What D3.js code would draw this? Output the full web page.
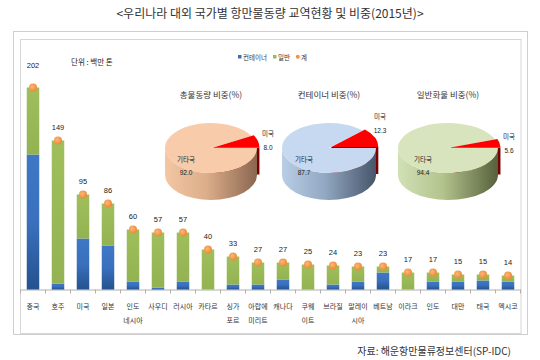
<!DOCTYPE html>
<html><head><meta charset="utf-8">
<script src="https://cdn.jsdelivr.net/npm/d3@7"></script>
<style>
html,body{margin:0;padding:0;background:#fff;}
svg{display:block;font-family:"Noto Sans CJK KR","Noto Sans",sans-serif;}
</style></head>
<body>
<svg id="c" width="540" height="360"></svg>
<script>
// ---- data ----
const categories = ["중국","호주","미국","일본","인도\n네시아","사우디","러시아","카타르","싱가\n포르","아랍에\n미리트","캐나다","쿠웨\n이트","브라질","말레이\n시아","베트남","이라크","인도","대만","태국","멕시코"];
const totals    = [202,149,95,86,60,57,57,40,33,27,27,25,24,23,23,17,17,15,15,14];
const container = [135,6,51,44,8,2,8,0,5,5,10,0,5,8,17,0,8,8,9,8];
const general   = [67,143,44,42,52,55,49,40,28,22,17,25,19,15,6,17,9,7,6,6];
const seriesNames = ["컨테이너","일반","계"];
const pieTitles = ["총물동량 비중(%)","컨테이너 비중(%)","일반화물 비중(%)"];
const pieUS     = [8.0,12.3,5.6];
const pieOther  = [92.0,87.7,94.4];
const pieLabels = ["미국","기타국"];
const title = "<우리나라 대외 국가별 항만물동량 교역현황 및 비중(2015년)>";
const unitLabel = "단위 : 백만 톤";
const source = "자료: 해운항만물류정보센터(SP-IDC)";

const svg = d3.select("#c");
const defs = svg.append("defs");

// gradients
function lg(id, stops, x2, y2){
  const g = defs.append("linearGradient").attr("id", id)
    .attr("x1",0).attr("y1",0).attr("x2",x2).attr("y2",y2);
  stops.forEach(s=>g.append("stop").attr("offset",s[0]).attr("stop-color",s[1]));
}
lg("gBlue", [[0,"#3f78c6"],[0.5,"#3a70bd"],[1,"#24528f"]], 0, 1);
lg("gGreen", [[0,"#9fbe5c"],[1,"#93b352"]], 0, 1);
lg("side0", [[0,"#f3c7a4"],[0.45,"#dcae8a"],[1,"#8a6650"]], 1, 0);
lg("side1", [[0,"#b9cde6"],[0.45,"#93a8c2"],[1,"#46556a"]], 1, 0);
lg("side2", [[0,"#d2e0b6"],[0.45,"#b3c38c"],[1,"#56603c"]], 1, 0);
const dotG = defs.append("radialGradient").attr("id","gDot").attr("cx","40%").attr("cy","40%").attr("r","60%");
dotG.append("stop").attr("offset",0).attr("stop-color","#fbb77a");
dotG.append("stop").attr("offset",1).attr("stop-color","#ee8a35");

// title
svg.append("text").attr("x",270).attr("y",18).attr("text-anchor","middle")
  .attr("font-size",12).attr("fill","#333").text(title);

// frames
svg.append("rect").attr("x",13.5).attr("y",31.5).attr("width",514).attr("height",303)
  .attr("fill","none").attr("stroke","#cfcfcf");
svg.append("rect").attr("x",20.5).attr("y",39.5).attr("width",500.5).attr("height",294)
  .attr("fill","#fff").attr("stroke","#d6d6d6");

// scales
const x = d3.scaleBand().domain(categories).range([20.5,520.5]).paddingInner(0.5).paddingOuter(0.25);
const y = d3.scaleLinear().domain([0,250]).range([289.5,39.5]);

// axis
const axG = svg.append("g").attr("transform","translate(0,289.5)");
axG.call(d3.axisBottom(x).tickSize(0).tickFormat(""));
axG.select(".domain").attr("stroke","#b0b0b0");
const step = x.step();
const bounds = categories.map(c=>x(c)+x.bandwidth()/2-step/2).concat([x(categories[categories.length-1])+x.bandwidth()/2+step/2]);
axG.selectAll("line.tk").data(bounds).join("line").attr("class","tk")
  .attr("x1",d=>d).attr("x2",d=>d).attr("y1",0).attr("y2",4).attr("stroke","#b0b0b0");

// bars
const bw = x.bandwidth();
const bars = svg.append("g");
categories.forEach((c,i)=>{
  const cx0 = x(c);
  bars.append("rect").attr("x",cx0).attr("width",bw)
    .attr("y",y(container[i])).attr("height",y(0)-y(container[i]))
    .attr("fill","url(#gBlue)");
  bars.append("rect").attr("x",cx0).attr("width",bw)
    .attr("y",y(container[i]+general[i])).attr("height",y(container[i])-y(container[i]+general[i]))
    .attr("fill","url(#gGreen)");
});
// total dots + labels
svg.append("g").selectAll("circle").data(totals).join("circle")
  .attr("cx",(d,i)=>x(categories[i])+bw/2).attr("cy",d=>y(d)).attr("r",4)
  .attr("fill","url(#gDot)");
svg.append("g").selectAll("text").data(totals).join("text")
  .attr("x",(d,i)=>x(categories[i])+bw/2).attr("y",(d,i)=>y(d)-(i===0?20:11))
  .attr("text-anchor","middle").attr("font-size",7.5)
  .attr("font-family","'Liberation Sans Narrow','Liberation Sans',sans-serif")
  .attr("fill","#222").text(d=>d);

// x labels
const xl = svg.append("g");
categories.forEach(c=>{
  const t = xl.append("text").attr("x",x(c)+bw/2).attr("y",309).attr("text-anchor","middle")
    .attr("font-size",7).attr("fill","#333");
  c.split("\n").forEach((s,k)=>t.append("tspan").attr("x",x(c)+bw/2).attr("dy",k?14:0).text(s));
});

// unit label
svg.append("text").attr("x",71).attr("y",65).attr("font-size",7.5).attr("fill","#222").text(unitLabel);

// legend
const lgG = svg.append("g").attr("font-size",6.5).attr("fill","#333");
const legX = [238,273,296];
const legC = ["#3a70bd","#9bbb59","#f4923c"];
seriesNames.forEach((s,i)=>{
  if(i<2) lgG.append("rect").attr("x",legX[i]).attr("y",55).attr("width",3.5).attr("height",3.5).attr("fill",legC[i]);
  else lgG.append("circle").attr("cx",legX[i]+1.8).attr("cy",56.8).attr("r",2).attr("fill",legC[i]);
  lgG.append("text").attr("x",legX[i]+5).attr("y",59.5).text(s);
});

// 3D pies
const pieCX = [211,329,448], pieRX = [46,47,50];
const usLabelY = [136,119,139];
const pcy = 148, ry = 25, depth = 27;
const topCols = ["#f8cbaa","#c6d9f0","#d7e4bd"];
function pt(cx,cy,rx,ry,t){return [cx+rx*Math.cos(t), cy+ry*Math.sin(t)];}
pieUS.forEach((us,k)=>{
  const cx = pieCX[k], rx = pieRX[k];
  const g = svg.append("g");
  const a = 2*Math.PI*us/100;
  const ex = 2.5, dx = ex*Math.cos(-a/2), dy = ex*Math.sin(-a/2);
  // red radial face (behind)
  g.append("path").attr("d",`M${cx+dx},${pcy+dy}L${cx+rx+dx},${pcy+dy}L${cx+rx+dx},${pcy+dy+depth}L${cx+dx},${pcy+dy+depth}Z`)
    .attr("fill","#7a0000");
  // main side wall
  g.append("path").attr("d",`M${cx+rx},${pcy}A${rx},${ry} 0 0 1 ${cx-rx},${pcy}L${cx-rx},${pcy+depth}A${rx},${ry} 0 0 0 ${cx+rx},${pcy+depth}Z`)
    .attr("fill",`url(#side${k})`);
  // main top
  const e = pt(cx,pcy,rx,ry,2*Math.PI-a);
  g.append("path").attr("d",`M${cx},${pcy}L${cx+rx},${pcy}A${rx},${ry} 0 1 1 ${e[0]},${e[1]}Z`)
    .attr("fill",topCols[k]);
  // red top
  const s = pt(cx+dx,pcy+dy,rx,ry,-a);
  g.append("path").attr("d",`M${cx+dx},${pcy+dy}L${s[0]},${s[1]}A${rx},${ry} 0 0 1 ${cx+rx+dx},${pcy+dy}Z`)
    .attr("fill","#ff0000");
  // titles and labels
  svg.append("text").attr("x",cx).attr("y",98).attr("text-anchor","middle").attr("font-size",8.5)
    .attr("fill","#333").text(pieTitles[k]);
  const ly = usLabelY[k];
  const lx = cx+rx+(k===1?4:11);
  svg.append("text").attr("x",lx).attr("y",ly).attr("text-anchor","middle").attr("font-size",6.5)
    .attr("fill","#222").text(pieLabels[0]);
  svg.append("text").attr("x",lx).attr("y",ly+14).attr("text-anchor","middle").attr("font-size",6.5)
    .attr("font-family","'Liberation Sans Narrow','Liberation Sans',sans-serif").attr("fill","#222").text(pieUS[k].toFixed(1));
  svg.append("text").attr("x",cx-25).attr("y",162).attr("text-anchor","middle").attr("font-size",6.5)
    .attr("fill","#222").text(pieLabels[1]);
  svg.append("text").attr("x",cx-25).attr("y",175).attr("text-anchor","middle").attr("font-size",6.5)
    .attr("font-family","'Liberation Sans Narrow','Liberation Sans',sans-serif").attr("fill","#222").text(pieOther[k].toFixed(1));
});

// source
svg.append("text").attr("x",511).attr("y",355).attr("text-anchor","end").attr("font-size",10)
  .attr("fill","#333").text(source);
</script>
</body></html>
